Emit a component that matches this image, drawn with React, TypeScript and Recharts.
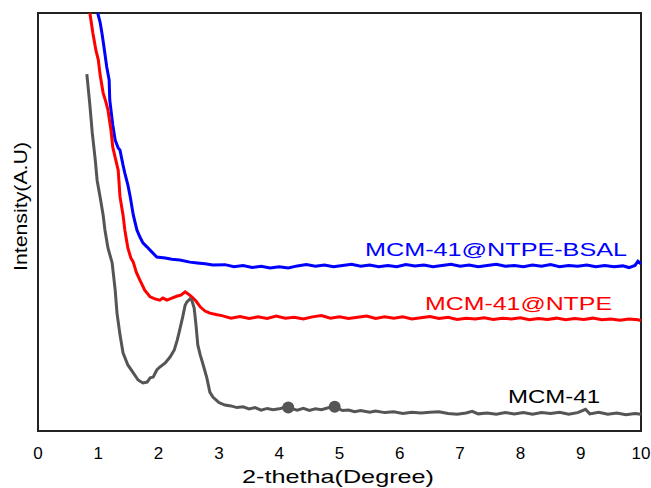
import React from 'react';
import { LineChart, Line, XAxis, YAxis, ReferenceArea, ReferenceDot } from 'recharts';

// 2-theta (degree) vs intensity (arbitrary units, 0-100)
const mcm41: [number, number][] = [
  [0.81, 85.4], [0.86, 78.0], [0.9, 71.3], [0.95, 64.8], [0.98, 60.0], [1.03, 56.0],
  [1.08, 51.7], [1.11, 48.1], [1.16, 43.8], [1.23, 40.2], [1.28, 33.7], [1.31, 28.2],
  [1.36, 23.0], [1.41, 18.7], [1.49, 15.8], [1.58, 13.9], [1.66, 12.2], [1.74, 11.5],
  [1.81, 11.7], [1.86, 12.7], [1.91, 12.9], [1.97, 14.6], [2.02, 15.3], [2.11, 16.3],
  [2.19, 17.7], [2.26, 19.4], [2.31, 21.8], [2.35, 24.2], [2.4, 27.3], [2.44, 30.1],
  [2.47, 30.9], [2.52, 31.6], [2.55, 31.3], [2.59, 29.4], [2.62, 25.4], [2.65, 20.6],
  [2.69, 18.2], [2.74, 15.8], [2.8, 12.7], [2.85, 9.3], [2.9, 8.1], [2.97, 7.2],
  [3.0, 6.8], [3.1, 6.2], [3.2, 6.0], [3.3, 5.6], [3.4, 5.8], [3.5, 5.3], [3.6, 5.6],
  [3.7, 5.0], [3.8, 5.4], [3.9, 5.1], [4.0, 5.3], [4.08, 5.6], [4.15, 5.7], [4.22, 5.3],
  [4.3, 5.0], [4.4, 5.4], [4.5, 4.9], [4.6, 5.3], [4.7, 5.1], [4.8, 5.5], [4.88, 5.8],
  [4.95, 5.6], [5.05, 4.9], [5.15, 5.0], [5.25, 4.6], [5.35, 4.9], [5.5, 4.5], [5.6, 4.8],
  [5.75, 4.4], [5.9, 4.6], [6.05, 4.2], [6.2, 4.5], [6.35, 4.3], [6.5, 4.5], [6.65, 4.6],
  [6.8, 4.2], [6.95, 4.0], [7.1, 4.3], [7.2, 4.7], [7.3, 4.1], [7.45, 4.3], [7.6, 4.0],
  [7.75, 4.4], [7.9, 4.1], [8.05, 4.4], [8.2, 4.0], [8.35, 4.4], [8.5, 4.2], [8.65, 4.5],
  [8.8, 4.0], [8.95, 4.4], [9.08, 5.2], [9.15, 4.1], [9.3, 4.5], [9.45, 4.0], [9.6, 4.3],
  [9.75, 3.9], [9.9, 4.2], [10.0, 4.0],
];

const mcm41Ntpe: [number, number][] = [
  [0.86, 100], [0.91, 95.2], [0.96, 91.1], [1.0, 88.8], [1.03, 85.2], [1.08, 80.9],
  [1.13, 78.5], [1.16, 76.8], [1.21, 72.0], [1.24, 67.9], [1.29, 64.8], [1.33, 62.4],
  [1.36, 56.0], [1.41, 51.7], [1.44, 48.1], [1.49, 43.8], [1.54, 41.4], [1.58, 40.4],
  [1.63, 38.0], [1.69, 36.1], [1.77, 33.7], [1.86, 32.1], [1.94, 31.6], [2.02, 31.3],
  [2.07, 31.8], [2.14, 31.3], [2.22, 31.8], [2.31, 32.3], [2.37, 32.5], [2.44, 33.3],
  [2.49, 32.8], [2.55, 32.1], [2.62, 31.1], [2.69, 29.7], [2.77, 28.7], [2.85, 28.2],
  [2.97, 27.8], [3.05, 27.6], [3.2, 27.0], [3.35, 27.4], [3.5, 26.9], [3.65, 27.3],
  [3.8, 26.9], [3.95, 27.5], [4.1, 27.0], [4.25, 27.2], [4.4, 26.8], [4.55, 27.3],
  [4.7, 27.6], [4.85, 27.0], [5.0, 27.3], [5.15, 26.9], [5.3, 27.2], [5.45, 27.5],
  [5.6, 26.9], [5.75, 27.3], [5.9, 27.0], [6.05, 27.3], [6.2, 26.8], [6.35, 27.1],
  [6.5, 27.4], [6.65, 26.9], [6.8, 27.2], [6.95, 26.7], [7.1, 27.0], [7.25, 26.8],
  [7.4, 27.1], [7.55, 26.7], [7.7, 27.0], [7.85, 26.8], [8.0, 27.1], [8.15, 26.6],
  [8.3, 26.9], [8.45, 26.7], [8.6, 27.0], [8.75, 26.6], [8.9, 26.9], [9.05, 26.7],
  [9.2, 27.0], [9.35, 26.6], [9.5, 26.8], [9.65, 26.5], [9.8, 26.8], [9.95, 26.6],
  [10.0, 26.4],
];

const mcm41NtpeBsal: [number, number][] = [
  [0.99, 100], [1.03, 97.8], [1.06, 95.2], [1.09, 92.3], [1.14, 87.1], [1.18, 84.0],
  [1.19, 79.2], [1.24, 73.2], [1.28, 69.6], [1.33, 67.7], [1.36, 67.2], [1.41, 63.6],
  [1.44, 61.7], [1.49, 58.9], [1.53, 56.0], [1.58, 51.7], [1.64, 48.1], [1.69, 46.4],
  [1.74, 45.0], [1.81, 44.0], [1.89, 42.8], [1.97, 41.6], [2.11, 41.4], [2.22, 41.1],
  [2.35, 40.9], [2.52, 40.4], [2.64, 40.2], [2.77, 40.0], [2.9, 39.7], [3.1, 39.8],
  [3.25, 39.3], [3.4, 39.6], [3.55, 39.1], [3.7, 39.4], [3.85, 39.0], [4.0, 39.3],
  [4.15, 39.0], [4.3, 39.5], [4.45, 39.8], [4.6, 39.4], [4.75, 39.7], [4.9, 39.3],
  [5.05, 39.6], [5.2, 39.9], [5.35, 39.4], [5.5, 39.7], [5.65, 39.3], [5.8, 39.6],
  [5.95, 39.3], [6.1, 39.8], [6.25, 39.5], [6.4, 39.7], [6.55, 39.3], [6.7, 39.6],
  [6.85, 39.9], [7.0, 39.4], [7.15, 39.7], [7.3, 39.3], [7.45, 39.6], [7.6, 39.9],
  [7.75, 39.4], [7.9, 39.6], [8.05, 39.3], [8.2, 39.7], [8.35, 39.4], [8.5, 39.8],
  [8.65, 39.3], [8.8, 39.6], [8.95, 39.4], [9.1, 39.7], [9.25, 39.3], [9.4, 39.6],
  [9.55, 39.3], [9.7, 39.5], [9.8, 39.1], [9.9, 39.6], [9.95, 40.6], [10.0, 40.0],
];

// blobs on the MCM-41 baseline
const mcm41Blobs: [number, number][] = [[4.15, 5.6], [4.92, 5.8]];

const xTicks = [0, 1, 2, 3, 4, 5, 6, 7, 8, 9, 10];

const toRows = (pts: [number, number][]) => pts.map(([x, y]) => ({ x, y }));

const FONT = '"Liberation Sans", Arial, sans-serif';

export default function App() {
  return (
    <div style={{ position: 'absolute', left: 0, top: 0, width: 651, height: 488, fontFamily: FONT, background: '#fff' }}>
      <LineChart width={651} height={488} margin={{ top: 13, right: 10, left: 38, bottom: 0 }}>
        <XAxis
          type="number"
          dataKey="x"
          domain={[0, 10]}
          ticks={xTicks}
          interval={0}
          height={57}
          tickLine={false}
          axisLine={false}
          tickMargin={10}
          tick={{ fontSize: 17, fill: '#000', fontFamily: FONT }}
        />
        <YAxis type="number" dataKey="y" domain={[0, 100]} hide />
        <ReferenceArea x1={0} x2={10} y1={0} y2={100} fill="none" stroke="#222" strokeWidth={2} ifOverflow="visible" />
        <Line data={toRows(mcm41NtpeBsal)} dataKey="y" type="linear" stroke="#0000ff" strokeWidth={3} dot={false} isAnimationActive={false} />
        <Line data={toRows(mcm41Ntpe)} dataKey="y" type="linear" stroke="#ff0000" strokeWidth={3} dot={false} isAnimationActive={false} />
        <Line data={toRows(mcm41)} dataKey="y" type="linear" stroke="#555555" strokeWidth={3} dot={false} isAnimationActive={false} />
        {mcm41Blobs.map(([x, y]) => (
          <ReferenceDot key={x} x={x} y={y} r={6} fill="#555555" stroke="none" />
        ))}
      </LineChart>
      <svg width={651} height={488} style={{ position: 'absolute', left: 0, top: 0, pointerEvents: 'none' }}>
        <text x={365} y={256} fontSize={19} fill="#0000ff" fontFamily={FONT} textLength={262} lengthAdjust="spacingAndGlyphs">MCM-41@NTPE-BSAL</text>
        <text x={425} y={310} fontSize={19} fill="#ff0000" fontFamily={FONT} textLength={187} lengthAdjust="spacingAndGlyphs">MCM-41@NTPE</text>
        <text x={508} y={403} fontSize={19} fill="#000" fontFamily={FONT} textLength={92} lengthAdjust="spacingAndGlyphs">MCM-41</text>
        <text x={242} y={483} fontSize={19} fill="#000" fontFamily={FONT} textLength={192} lengthAdjust="spacingAndGlyphs">2-thetha(Degree)</text>
        <text x={0} y={0} transform="translate(27,271) rotate(-90)" fontSize={19} fill="#000" fontFamily={FONT} textLength={129} lengthAdjust="spacingAndGlyphs">Intensity(A.U)</text>
      </svg>
    </div>
  );
}
